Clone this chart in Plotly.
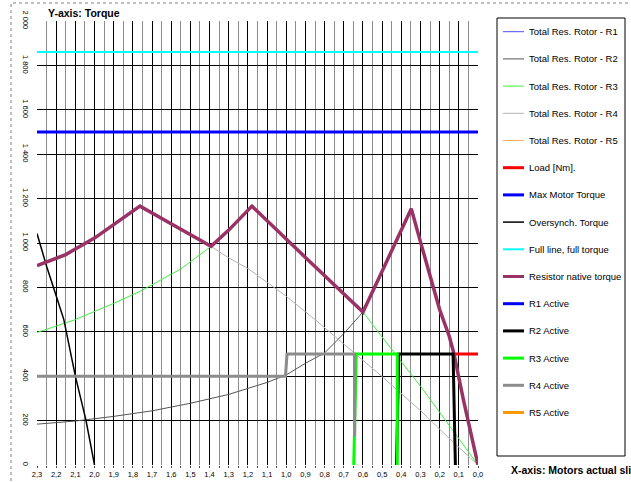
import plotly.graph_objects as go

# ---- data: torque [Nm] against motor slip --------------------------------
slip_r2 = [2.3, 2.1, 1.9, 1.7, 1.5, 1.3, 1.1, 1.0, 0.9, 0.8, 0.7, 0.6,
           0.5, 0.42, 0.348, 0.3, 0.25, 0.2, 0.15, 0.125, 0.1, 0.076, 0.0]
torque_r2 = [184, 198, 219, 244, 278, 318, 372, 406, 458, 505, 592, 689,
             873, 1020, 1154, 1005, 845, 700, 580, 500, 394, 293, 0]

slip_r3 = [2.3, 2.1, 1.9, 1.763, 1.55, 1.392, 1.3, 1.179, 0.9, 0.6,
           0.45, 0.3, 0.15, 0.0]
torque_r3 = [597, 655, 728, 782, 883, 985, 1058, 1166, 935, 689,
             520, 355, 178, 0]

slip_r4 = [2.3, 2.15, 2.0, 1.9, 1.763, 1.58, 1.392, 1.3, 1.2, 1.0, 0.85,
           0.7, 0.5, 0.3, 0.15, 0.0]
torque_r4 = [898, 948, 1022, 1082, 1166, 1077, 985, 933, 885, 760, 655,
             545, 398, 245, 120, 0]

slip_native = [2.3, 2.15, 2.0, 1.9, 1.763, 1.58, 1.392, 1.3, 1.179, 0.9, 0.6,
               0.5, 0.42, 0.348, 0.3, 0.25, 0.2, 0.15, 0.125, 0.1, 0.076, 0.0]
torque_native = [898, 948, 1022, 1082, 1166, 1077, 985, 1058, 1166, 935, 689,
                 873, 1020, 1154, 1005, 845, 700, 580, 500, 394, 293, 0]

slip_oversynch = [2.3, 2.25, 2.2, 2.16, 2.1, 2.045, 2.0]
torque_oversynch = [1043, 895, 762, 655, 400, 203, 0]

slip_span = [2.3, 0.0]
full_torque = [1860, 1860]
max_motor_torque = [1500, 1500]

slip_load = [0.13, 0.0]
torque_load = [500, 500]

slip_r2_active = [0.425, 0.413, 0.13, 0.118]
torque_r2_active = [0, 500, 500, 0]
slip_r3_active = [0.648, 0.635, 0.421, 0.421]
torque_r3_active = [0, 500, 500, 0]
slip_r4_active = [2.3, 1.004, 0.996, 0.643, 0.643]
torque_r4_active = [400, 400, 500, 500, 128]

x_ticks = [round(2.3 - 0.1 * i, 1) for i in range(24)]
y_ticks = [200 * i for i in range(11)]

# ---- series: (name, x, y, colour, width) in drawing / legend order ------
series = [
    ("Total Res. Rotor - R1", [], [], "#4d4dff", 1),
    ("Total Res. Rotor - R2", slip_r2, torque_r2, "#555555", 1),
    ("Total Res. Rotor - R3", slip_r3, torque_r3, "#40f040", 1),
    ("Total Res. Rotor - R4", slip_r4, torque_r4, "#b4b4b4", 1),
    ("Total Res. Rotor - R5", [], [], "#ffb060", 1),
    ("Load [Nm].", slip_load, torque_load, "#ff0000", 3),
    ("Max Motor Torque", slip_span, max_motor_torque, "#0000ff", 3),
    ("Oversynch. Torque", slip_oversynch, torque_oversynch, "#000000", 1.5),
    ("Full line, full torque", slip_span, full_torque, "#00ffff", 2),
    ("Resistor native torque", slip_native, torque_native, "#993366", 3.5),
    ("R1 Active", [], [], "#0000ff", 3),
    ("R2 Active", slip_r2_active, torque_r2_active, "#000000", 3),
    ("R3 Active", slip_r3_active, torque_r3_active, "#00ff00", 3),
    ("R4 Active", slip_r4_active, torque_r4_active, "#8c8c8c", 3),
    ("R5 Active", [], [], "#ff9900", 3),
]

W, H = 631, 482
L, R, T, B = 37, 478, 21, 465          # plot area in pixels


def px_x(px):
    return (px - L) / (R - L)


def px_y(py):
    return (B - py) / (B - T)


fig = go.Figure()
for name, xs, ys, color, width in series:
    fig.add_trace(go.Scatter(
        x=xs, y=ys, mode="lines", name=name, showlegend=False,
        line=dict(color=color, width=width), hoverinfo="skip"))

shapes = []
annotations = []

# legend frame and entries
shapes.append(dict(type="rect", xref="paper", yref="paper",
                   x0=px_x(497), x1=px_x(625), y0=px_y(456), y1=px_y(18),
                   line=dict(color="#000000", width=1), fillcolor="white",
                   layer="below"))
for i, (name, _, _, color, width) in enumerate(series):
    yc = 31.7 + i * 27.2
    shapes.append(dict(type="line", xref="paper", yref="paper",
                       x0=px_x(503), x1=px_x(524), y0=px_y(yc), y1=px_y(yc),
                       line=dict(color=color, width=width if width < 3 else 3)))
    annotations.append(dict(text=name, xref="paper", yref="paper",
                            x=px_x(527), y=px_y(yc), xanchor="left",
                            yanchor="middle", showarrow=False,
                            font=dict(family="Liberation Sans",
                                      size=9.5, color="#000000")))

# dotted page frame
shapes.append(dict(type="rect", xref="paper", yref="paper",
                   x0=px_x(11), x1=px_x(640), y0=px_y(490), y1=px_y(3),
                   line=dict(color="#808080", width=1, dash="dot")))

annotations.append(dict(text="<b>Y-axis: Torque</b>", xref="paper", yref="paper",
                        x=px_x(46), y=px_y(13), xanchor="left", yanchor="middle",
                        showarrow=False,
                        font=dict(family="Liberation Sans", size=10.5, color="#000000")))
annotations.append(dict(text="<b>X-axis: Motors actual slip</b>", xref="paper",
                        yref="paper", x=px_x(509), y=px_y(470), xanchor="left",
                        yanchor="middle", showarrow=False,
                        font=dict(family="Liberation Sans", size=10.5, color="#000000")))

fig.update_layout(
    width=W, height=H,
    margin=dict(l=L, r=W - R, t=T, b=H - B, autoexpand=False),
    paper_bgcolor="white", plot_bgcolor="white",
    separators=", ",
    showlegend=False,
    shapes=shapes, annotations=annotations,
    font=dict(family="Liberation Sans", color="#000000"),
)
fig.update_xaxes(
    range=[2.3, 0.0], tickmode="array", tickvals=x_ticks, tickformat=".1f",
    showgrid=True, gridcolor="#000000", gridwidth=1, zeroline=False,
    showline=False, ticks="outside", ticklen=2, tickcolor="#444444",
    tickfont=dict(size=7.5, color="#000000"),
    minor=dict(dtick=0.05, tick0=0, showgrid=True, gridcolor="#8c8c8c",
               gridwidth=1, ticks="outside", ticklen=2, tickcolor="#444444"),
)
fig.update_yaxes(
    range=[0, 2000], tickmode="array", tickvals=y_ticks, separatethousands=True,
    tickangle=90, showgrid=True, gridcolor="#000000", gridwidth=1,
    zeroline=False, showline=False, ticks="", ticklabelstandoff=6,
    tickfont=dict(size=7.5, color="#000000"),
)

fig.write_html("out.html")
